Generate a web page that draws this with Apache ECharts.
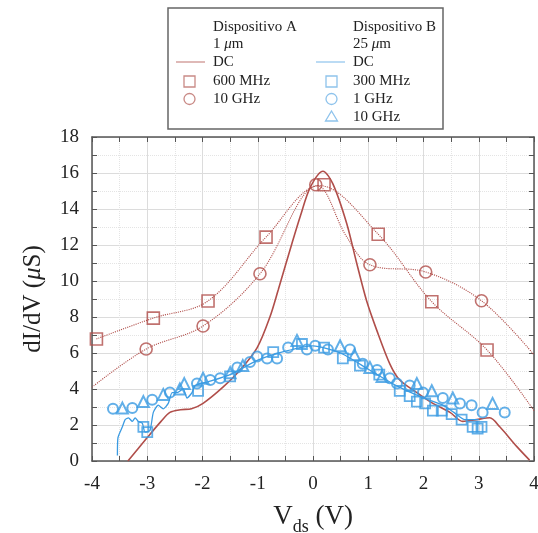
<!DOCTYPE html>
<html><head><meta charset="utf-8">
<script src="https://cdn.jsdelivr.net/npm/echarts@6/dist/echarts.min.js"></script>
<style>html,body{margin:0;padding:0;background:#fff}#c{width:538px;height:533px}</style>
</head><body><div id="c"></div>
<script>
// ---- Data (Vds in V, dI/dV in µS) ----
var xTicks = [-4,-3,-2,-1,0,1,2,3,4];
var yTicks = [0,2,4,6,8,10,12,14,16,18];

// Device A (1 µm)
var aDC = [[-3.35,0],[-3.0,1.3],[-2.75,2.2],[-2.59,2.7],[-2.4,2.85],[-2.2,2.9],[-1.99,3.2],[-1.63,4.1],[-1.32,5.05],[-1.01,6.3],[-0.78,8.0],[-0.63,9.5],[-0.38,12.1],[-0.23,13.6],[-0.05,15.2],[0.18,16.1],[0.36,15.4],[0.61,13.2],[0.79,11.0],[0.97,8.9],[1.15,7.3],[1.39,5.4],[1.57,4.5],[1.88,3.8],[2.17,3.2],[2.48,2.7],[2.71,2.2],[2.96,2.3],[3.2,2.4],[3.38,1.9],[3.69,0.8],[3.92,0.05]];
var a600 = [[-3.92,6.78],[-2.89,7.94],[-1.90,8.89],[-0.85,12.44],[0.2,15.35],[1.18,12.6],[2.15,8.85],[3.15,6.17]];
var a600Fit = [[-3.92,6.78],[-2.89,7.94],[-1.90,8.89],[-0.85,12.44],[0.12,15.3],[1.18,12.6],[2.15,8.85],[3.15,6.17],[4.0,2.8]];
var a10G = [[-3.02,6.22],[-1.99,7.5],[-0.96,10.4],[0.05,15.35],[1.03,10.9],[2.04,10.5],[3.05,8.9]];
var a10GFit = [[-4.0,4.1],[-3.02,6.22],[-1.99,7.5],[-0.96,10.4],[0.08,15.3],[0.6,12.5],[1.03,10.9],[2.04,10.5],[3.05,8.9],[4.0,5.9]];

// Device B (25 µm)
var bDC = [[-3.54,0.3],[-3.53,1.3],[-3.45,1.9],[-3.4,2.3],[-3.34,2.4],[-3.27,2.2],[-3.22,2.4],[-3.16,2.2],[-3.09,2.1],[-3.04,1.6],[-2.95,1.7],[-2.89,2.7],[-2.8,3.1],[-2.71,2.9],[-2.62,3.2],[-2.55,3.8],[-2.46,3.8],[-2.35,4.0],[-2.28,3.5],[-2.19,3.8],[-2.13,4.2],[-1.9,4.4],[-1.5,4.8],[-1.0,5.6],[-0.5,6.1],[0,6.4],[0.5,6.0],[1.0,5.1],[1.5,4.2],[2.0,3.5],[2.35,3.1],[2.55,2.7],[2.75,2.3],[3.0,2.3]];
var b300 = [[-3.07,1.9],[-3.0,1.6],[-2.08,3.9],[-1.5,4.7],[-0.72,6.05],[-0.2,6.5],[0.2,6.3],[0.54,5.7],[0.85,5.3],[1.2,4.8],[1.57,3.9],[1.75,3.6],[1.88,3.3],[2.03,3.2],[2.17,2.8],[2.33,2.8],[2.51,2.6],[2.69,2.3],[2.89,1.9],[2.98,1.8],[3.05,1.9]];
var b1G = [[-3.62,2.9],[-3.27,2.94],[-2.91,3.4],[-2.59,3.8],[-2.1,4.3],[-1.86,4.5],[-1.68,4.6],[-1.37,5.2],[-1.14,5.5],[-1.01,5.8],[-0.83,5.7],[-0.65,5.7],[-0.45,6.3],[-0.11,6.2],[0.04,6.4],[0.27,6.2],[0.67,6.2],[0.9,5.4],[1.16,5.05],[1.39,4.6],[1.52,4.3],[1.75,4.2],[1.99,3.8],[2.35,3.5],[2.66,3.2],[2.87,3.1],[3.07,2.7],[3.47,2.7]];
var b10G = [[-3.45,2.94],[-3.07,3.3],[-2.71,3.7],[-2.41,4.0],[-2.33,4.3],[-1.99,4.6],[-1.5,4.9],[-1.27,5.3],[-0.29,6.7],[0.49,6.4],[0.75,5.9],[1.03,5.2],[1.25,4.7],[1.88,4.3],[2.15,3.9],[2.53,3.5],[3.25,3.2]];

var RED = '#b04e4a', BLUE = '#3b9be2';
var FONT = '"Liberation Serif", "DejaVu Serif", serif';

var chart = echarts.init(document.getElementById('c'), null, {renderer:'canvas'});

function axisCommon(){ return {
  axisLine:{show:true, onZero:false, lineStyle:{color:'#555', width:1.5}},
  axisTick:{show:true, inside:true, length:5, lineStyle:{color:'#555'}},
  minorTick:{show:true, splitNumber:2, length:5, lineStyle:{color:'#555'}}
};}

var xMain = Object.assign(axisCommon(), {
  type:'value', position:'bottom', min:-4, max:4, interval:1,
  axisLabel:{fontFamily:FONT, fontSize:19, color:'#222', margin:14, formatter:function(v){return xTicks.indexOf(v)>=0?String(v):'';}},
  splitLine:{show:true, lineStyle:{color:'#dcdcdc', width:1}},
  minorSplitLine:{show:true, lineStyle:{color:'#e4e4e4', type:'dotted', width:1}},
  name:'{a|V}{s|ds}{a| (V)}', nameLocation:'middle', nameGap:42,
  nameTextStyle:{fontFamily:FONT, color:'#222', rich:{
    a:{fontFamily:FONT, fontSize:27, color:'#222', lineHeight:30, verticalAlign:'top'},
    s:{fontFamily:FONT, fontSize:18, color:'#222', lineHeight:18, padding:[15,0,0,0], verticalAlign:'top'}
  }}
});
var xTop = Object.assign(axisCommon(), {type:'value', position:'top', min:-4, max:4, interval:1, axisLabel:{show:false}, splitLine:{show:false}});
var yMain = Object.assign(axisCommon(), {
  type:'value', position:'left', min:0, max:18, interval:2,
  axisLabel:{fontFamily:FONT, fontSize:19, color:'#222', margin:13},
  splitLine:{show:true, lineStyle:{color:'#dcdcdc', width:1}},
  minorSplitLine:{show:true, lineStyle:{color:'#e4e4e4', type:'dotted', width:1}},
  name:'dI/dV ({i|μ}S)', nameLocation:'middle', nameGap:46, nameRotate:90,
  nameTextStyle:{fontFamily:FONT, fontSize:25, color:'#222', rich:{
    i:{fontFamily:FONT, fontSize:25, fontStyle:'italic', color:'#222'}
  }}
});
var yRight = Object.assign(axisCommon(), {type:'value', position:'right', min:0, max:18, interval:2, axisLabel:{show:false}, splitLine:{show:false}});

function scatter(name, data, symbol, size, color, lw){
  return {name:name, type:'scatter', xAxisIndex:0, yAxisIndex:0, data:data, symbol:symbol, symbolSize:size,
    itemStyle:{color:'rgba(255,255,255,0)', borderColor:color, borderWidth:lw}, z:5};
}
function line(name, data, color, w, type, smooth){
  return {name:name, type:'line', xAxisIndex:0, yAxisIndex:0, data:data, showSymbol:false, symbol:'none', smooth:smooth,
    lineStyle:{color:color, width:w, type:type}, z:3};
}

var g = [];
g.push({type:'rect', shape:{x:168, y:8, width:275, height:121}, style:{fill:'#fff', stroke:'#666', lineWidth:1.5}, z:100});
function txt(x,y,t,rich){ g.push({type:'text', x:x, y:y, z:101, style:{text:t, font:'15px '+FONT, fill:'#222', textVerticalAlign:'middle', verticalAlign:'middle', rich:rich||undefined}}); }
var muRich = {i:{fontStyle:'italic', fontFamily:FONT, fontSize:15, fill:'#222'}};
txt(213,27,'Dispositivo A'); txt(213,44,'1 {i|μ}m', muRich);
txt(213,62,'DC'); txt(213,81,'600 MHz'); txt(213,99,'10 GHz');
txt(353,27,'Dispositivo B'); txt(353,44,'25 {i|μ}m', muRich);
txt(353,62,'DC'); txt(353,81,'300 MHz'); txt(353,99,'1 GHz'); txt(353,117,'10 GHz');
g.push({type:'line', shape:{x1:176,y1:62,x2:205,y2:62}, style:{stroke:'#c98a86', lineWidth:1.2}, z:101});
g.push({type:'line', shape:{x1:316,y1:62,x2:345,y2:62}, style:{stroke:'#8ec3ec', lineWidth:1.2}, z:101});
g.push({type:'rect', shape:{x:184,y:76,width:11,height:11}, style:{fill:'none', stroke:'#c98a86', lineWidth:1.3}, z:101});
g.push({type:'circle', shape:{cx:189.5,cy:99,r:5.5}, style:{fill:'none', stroke:'#c98a86', lineWidth:1.3}, z:101});
g.push({type:'rect', shape:{x:326,y:76,width:11,height:11}, style:{fill:'none', stroke:'#8ec3ec', lineWidth:1.3}, z:101});
g.push({type:'circle', shape:{cx:331.5,cy:99,r:5.5}, style:{fill:'none', stroke:'#8ec3ec', lineWidth:1.3}, z:101});
g.push({type:'polygon', shape:{points:[[331.5,111],[337.5,121],[325.5,121]]}, style:{fill:'none', stroke:'#8ec3ec', lineWidth:1.3}, z:101});

chart.setOption({
  backgroundColor:'#fff',
  animation:false,
  grid:{left:92, right:4, top:137, bottom:72, containLabel:false, outerBoundsMode:'none'},
  xAxis:[xMain, xTop],
  yAxis:[yMain, yRight],
  graphic:g,
  series:[
    line('A DC', aDC, RED, 1.6, 'solid', 0.3),
    line('A 600 MHz fit', a600Fit, RED, 1.1, 'dotted', 0.35),
    line('A 10 GHz fit', a10GFit, RED, 1.1, 'dotted', 0.35),
    line('B DC', bDC, BLUE, 1.3, 'solid', 0.2),
    scatter('A 600 MHz', a600, 'rect', 12, RED, 1.6),
    scatter('A 10 GHz', a10G, 'circle', 12, RED, 1.6),
    scatter('B 300 MHz', b300, 'rect', 10, BLUE, 1.8),
    scatter('B 1 GHz', b1G, 'circle', 10, BLUE, 2),
    scatter('B 10 GHz', b10G, 'triangle', 11, BLUE, 2)
  ]
});
</script></body></html>
